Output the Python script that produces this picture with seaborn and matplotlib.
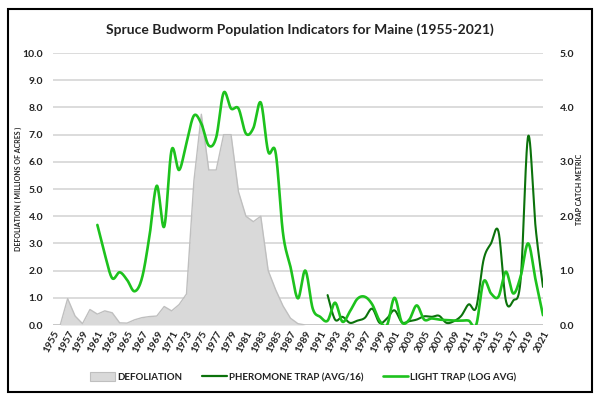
import numpy as np
import pandas as pd
import matplotlib.pyplot as plt
import seaborn as sns
from matplotlib.patches import Patch, Rectangle
from matplotlib.lines import Line2D

# data
years = list(range(1955, 2022))
defoliation = [0, 0, 0.97, 0.33, 0.05, 0.57, 0.40, 0.52, 0.45, 0.08,
               0.07, 0.19, 0.27, 0.31, 0.33, 0.68, 0.52, 0.75, 1.14, 5.3,
               7.75, 5.7, 5.7, 7.0, 7.0, 4.9, 4.0, 3.8, 4.0, 2.0,
               1.3, 0.7, 0.25, 0.05] + [0] * 33

light_years = list(range(1961, 2022))
light_trap = [1.84, 1.30, 0.86, 0.97, 0.83, 0.62, 0.86, 1.62, 2.56, 1.81,
              3.22, 2.85, 3.35, 3.85, 3.70, 3.30, 3.45, 4.27, 3.98, 3.98,
              3.52, 3.62, 4.09, 3.19, 3.17, 1.68, 1.07, 0.49, 1.00, 0.30,
              0.15, 0.08, 0.41, 0.06, 0.25, 0.48, 0.52, 0.38, 0.08, 0.00,
              0.50, 0.05, 0.10, 0.36, 0.10, 0.12, 0.10, 0.09, 0.08, 0.08,
              0.08, 0.00, 0.80, 0.58, 0.52, 0.98, 0.58, 0.90, 1.50, 0.83,
              0.18]

pher_years = list(range(1992, 2022))
pheromone = [0.55, 0.10, 0.15, 0.04, 0.08, 0.13, 0.30, 0.04, 0.12, 0.27,
             0.05, 0.07, 0.10, 0.16, 0.15, 0.17, 0.04, 0.07, 0.17, 0.38,
             0.32, 1.20, 1.50, 1.72, 0.45, 0.45, 0.85, 3.47, 1.80, 0.70]

x_labels = [str(y) for y in range(1955, 2022, 2)]

GRAY_FILL = "#d9d9d9"
GRAY_EDGE = "#bfbfbf"
DARK_GREEN = "#0b720b"
LIGHT_GREEN = "#1dc21d"
TEXT = "#222222"


def smooth(x, y, n=24):
    # excel style smoothed line (catmull-rom as bezier)
    x = np.asarray(x, float)
    y = np.asarray(y, float)
    px = np.concatenate([[x[0]], x, [x[-1]]])
    py = np.concatenate([[y[0]], y, [y[-1]]])
    t = np.linspace(0, 1, n, endpoint=False)
    xs, ys = [], []
    for i in range(1, len(px) - 2):
        c1x = px[i] + (px[i + 1] - px[i - 1]) / 6
        c1y = py[i] + (py[i + 1] - py[i - 1]) / 6
        c2x = px[i + 1] - (px[i + 2] - px[i]) / 6
        c2y = py[i + 1] - (py[i + 2] - py[i]) / 6
        b = [(1 - t) ** 3, 3 * (1 - t) ** 2 * t, 3 * (1 - t) * t ** 2, t ** 3]
        xs.append(b[0] * px[i] + b[1] * c1x + b[2] * c2x + b[3] * px[i + 1])
        ys.append(b[0] * py[i] + b[1] * c1y + b[2] * c2y + b[3] * py[i + 1])
    xs.append([x[-1]])
    ys.append([y[-1]])
    return np.concatenate(xs), np.concatenate(ys)


sns.set_theme(style="white")
plt.rcParams['font.family'] = ['Lato', 'DejaVu Sans']

fig = plt.figure(figsize=(6, 3.98), dpi=100)
ax = fig.add_axes([0.088, 0.1834, 0.817, 0.6833])
ax2 = ax.twinx()

# defoliation area
ax.fill_between(years, defoliation, 0, color=GRAY_FILL, lw=0, zorder=2)
ax.plot(years, defoliation, color=GRAY_EDGE, lw=1.0, zorder=3)

# trap lines on secondary axis
px, py = smooth(pher_years, pheromone)
lx, ly = smooth(light_years, light_trap)
sns.lineplot(x=px, y=py, ax=ax2, color=DARK_GREEN, lw=1.5, sort=False, estimator=None)
sns.lineplot(x=lx, y=ly, ax=ax2, color=LIGHT_GREEN, lw=1.9, sort=False, estimator=None)

ax.set_xlim(1955, 2021)
ax.set_ylim(0, 10)
ax2.set_ylim(0, 5)
ax.set_yticks(np.arange(0, 11, 1))
ax.set_yticklabels([f"{v:.1f}" for v in range(0, 11)])
ax2.set_yticks(np.arange(0, 6, 1))
ax2.set_yticklabels([f"{v:.1f}" for v in range(0, 6)])
ax.set_xticks(list(range(1955, 2022, 2)))
ax.set_xticklabels(x_labels, rotation=62, ha='right', rotation_mode='anchor')

ax.grid(axis='y', color="#d9d9d9", lw=1.3, zorder=0)
ax.set_axisbelow(True)
for a in (ax, ax2):
    for s in a.spines.values():
        s.set_visible(False)
    a.tick_params(length=0)
ax.tick_params(axis='y', labelsize=7.5, pad=7)
ax.tick_params(axis='x', labelsize=7.2, pad=3)
ax2.tick_params(axis='y', labelsize=7.5, pad=12)
for lab in ax.get_xticklabels() + ax.get_yticklabels() + ax2.get_yticklabels():
    lab.set_fontweight('bold')
    lab.set_color(TEXT)

ax.set_ylabel("DEFOLIATION ( MILLIONS OF ACRES )", fontsize=5.0, fontweight='bold',
              color=TEXT)
ax.yaxis.set_label_coords(-0.063, 0.5)
ax2.set_ylabel("TRAP CATCH METRIC", fontsize=5.0, fontweight='bold', color=TEXT)
ax2.yaxis.set_label_coords(1.068, 0.5)
ax2.set_xlabel("")
ax.set_xlabel("")

fig.suptitle("Spruce Budworm Population Indicators for Maine (1955-2021)",
             x=0.5, y=0.925, va='center', fontsize=10, fontweight='bold', color=TEXT)

handles = [Patch(facecolor=GRAY_FILL, edgecolor=GRAY_EDGE, lw=0.8),
           Line2D([0], [0], color=DARK_GREEN, lw=1.6),
           Line2D([0], [0], color=LIGHT_GREEN, lw=1.9)]
labels = ["DEFOLIATION", "PHEROMONE TRAP (AVG/16)", "LIGHT TRAP (LOG AVG)"]
leg = fig.legend(handles, labels, loc='center', bbox_to_anchor=(0.505, 0.052), ncol=3,
                 frameon=False, fontsize=7, handlelength=2.6, handleheight=1.0,
                 handletextpad=0.2, columnspacing=2.0)
for t in leg.get_texts():
    t.set_fontweight('bold')
    t.set_color(TEXT)

# outer frame
fig.patches.append(Rectangle((0.013, 0.016), 0.974, 0.962, transform=fig.transFigure,
                             fill=False, edgecolor="black", lw=1.5))

fig.savefig("out.png", dpi=100)
